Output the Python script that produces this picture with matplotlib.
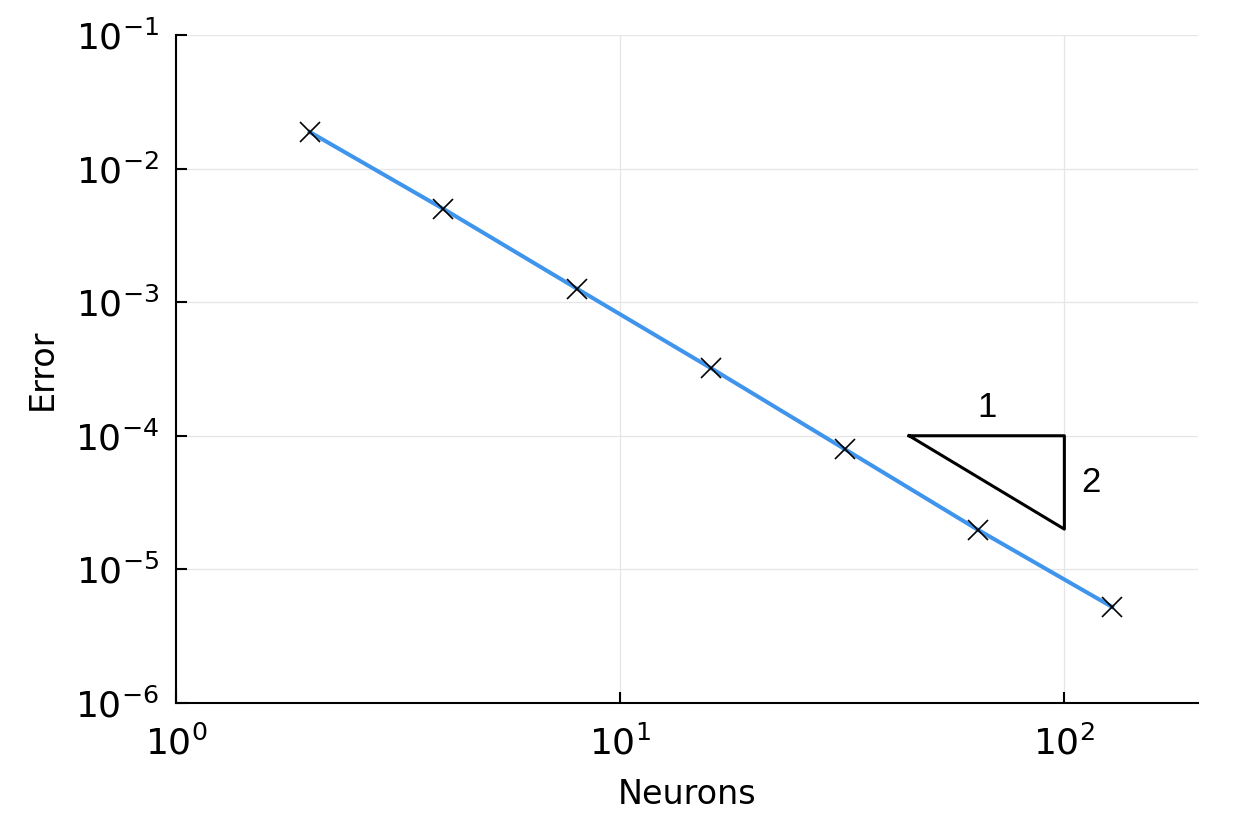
import numpy as np
import matplotlib.pyplot as plt

neurons = np.array([2, 4, 8, 16, 32, 64, 128])
error = np.array([1.88e-2, 4.99e-3, 1.26e-3, 3.21e-4, 7.96e-5, 1.97e-5, 5.24e-6])

# slope triangle (order 2)
tri_x = [100 / np.sqrt(5), 100, 100, 100 / np.sqrt(5)]
tri_y = [1e-4, 1e-4, 2e-5, 1e-4]

fig = plt.figure(figsize=(12.48, 8.26), dpi=100)
ax = fig.add_axes([0.141, 0.149, 0.819, 0.8086])

ax.plot(neurons, error, color='#3f94ec', lw=2.9, zorder=3)
ax.plot(neurons, error, ls='none', marker='x', ms=14, mew=1.2, color='k', zorder=4)
ax.plot(tri_x, tri_y, color='k', lw=2.2, zorder=3)
ax.text(np.sqrt(tri_x[0] * tri_x[1]), 1.22e-4, '1', fontsize=25,
        family='Liberation Sans', ha='center', va='bottom')
ax.text(109, np.sqrt(1e-4 * 2e-5), '2', fontsize=25,
        family='Liberation Sans', ha='left', va='center')

ax.set_xscale('log')
ax.set_yscale('log')
ax.set_xlim(1, 200)
ax.set_ylim(1e-6, 1e-1)
ax.set_xticks([1, 10, 100])
ax.set_yticks([1e-6, 1e-5, 1e-4, 1e-3, 1e-2, 1e-1])
ax.minorticks_off()
ax.grid(True, color='#e6e6e6', lw=0.9)
ax.set_axisbelow(True)
for s in ['top', 'right']:
    ax.spines[s].set_visible(False)
for s in ['left', 'bottom']:
    ax.spines[s].set_linewidth(1.5)
ax.tick_params(direction='in', length=8, width=1.5, labelsize=26)
ax.tick_params(axis='x', pad=16)
ax.tick_params(axis='y', pad=12)
ax.set_xlabel('Neurons', fontsize=24, labelpad=12)
ax.set_ylabel('Error', fontsize=24, labelpad=12)

fig.savefig('out.png', dpi=100)
